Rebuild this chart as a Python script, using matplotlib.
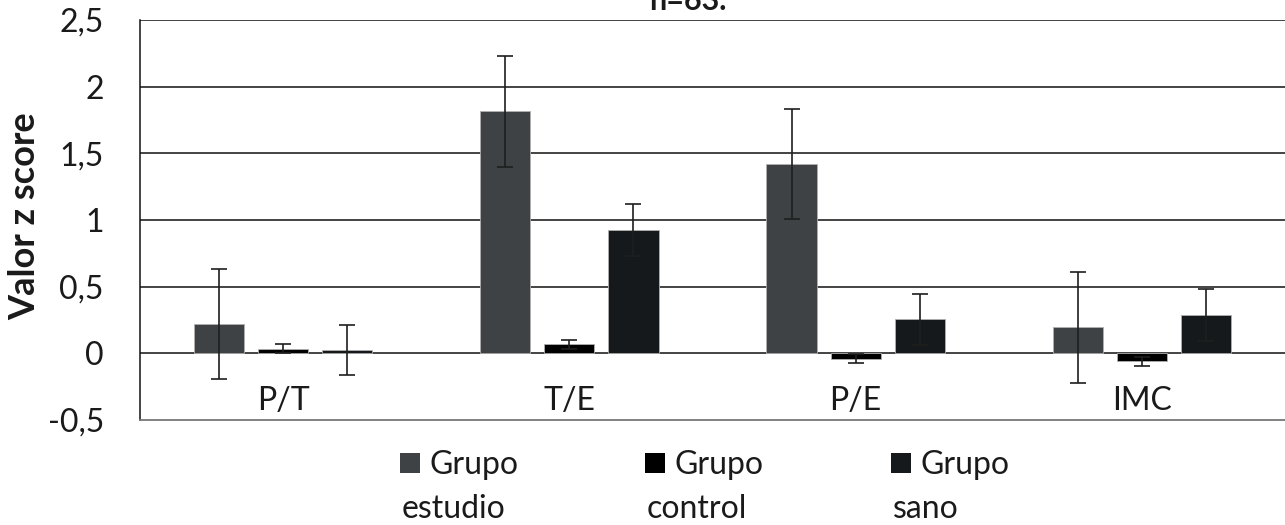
import numpy as np
import matplotlib
matplotlib.use("Agg")
import matplotlib.pyplot as plt
from matplotlib.patches import Rectangle

plt.rcParams['font.family'] = ['Lato', 'DejaVu Sans']

# data
categories = ["P/T", "T/E", "P/E", "IMC"]
series_names = ["Grupo\nestudio", "Grupo\ncontrol", "Grupo\nsano"]
estudio = [0.22, 1.815, 1.42, 0.195]
estudio_err = [0.415, 0.415, 0.415, 0.415]
control = [0.035, 0.068, -0.04, -0.06]
control_err = [0.035, 0.032, 0.035, 0.035]
sano = [0.025, 0.928, 0.255, 0.287]
sano_err = [0.19, 0.195, 0.19, 0.195]
colors = ["#3f4244", "#000000", "#16191c"]
yticks = [-0.5, 0, 0.5, 1, 1.5, 2, 2.5]
ytick_labels = ["-0,5", "0", "0,5", "1", "1,5", "2", "2,5"]

W, H = 1285, 525
fig = plt.figure(figsize=(W / 100, H / 100), dpi=100)
ax = fig.add_axes([140 / W, 1 - 420 / H, 1 - 140 / W, 400 / H])

x = np.arange(len(categories))
bw = 0.175
step = 0.224
for k, (vals, errs) in enumerate([(estudio, estudio_err), (control, control_err), (sano, sano_err)]):
    xs = x + (k - 1) * step
    ax.bar(xs, vals, width=bw, color=colors[k], edgecolor="#b0b0b0", linewidth=0.6, zorder=3)
    ax.errorbar(xs, vals, yerr=errs, fmt="none", ecolor="#1e1e1e", elinewidth=1.2,
                capsize=6, capthick=1.2, zorder=4)

ax.set_xlim(-0.5, 3.5)
ax.set_ylim(-0.5, 2.5)
ax.set_yticks(yticks)
ax.set_yticklabels(ytick_labels, fontsize=23, color="#1a1a1a")
ax.set_xticks([])
ax.tick_params(axis="y", length=0, pad=26)
for yv in yticks[1:]:
    ax.axhline(yv, color="#111111", linewidth=1.1, zorder=2)

ax.spines["right"].set_visible(False)
ax.spines["top"].set_visible(False)
ax.spines["left"].set_color("#111111")
ax.spines["left"].set_linewidth(1.1)
ax.spines["bottom"].set_color("#777777")
ax.spines["bottom"].set_linewidth(1.3)

for i, c in enumerate(categories):
    ax.text(i, -0.36, c, ha="center", va="center", fontsize=23, color="#1a1a1a")

fig.text(25 / W, 1 - 216 / H, "Valor z score", rotation=90, ha="center", va="center",
         fontsize=26, fontweight="bold", color="#1a1a1a")
fig.text(688 / W, 1 - 10 / H, "n=63.", ha="center", va="baseline",
         fontsize=22, fontweight="bold", color="#1a1a1a")

# legend
leg_x = [400, 645, 891]
for k, name in enumerate(series_names):
    first, second = name.split("\n")
    x0 = leg_x[k]
    fig.patches.append(Rectangle((x0 / W, 1 - 473 / H), 20 / W, 20 / H,
                                 transform=fig.transFigure, facecolor=colors[k],
                                 edgecolor="none"))
    fig.text((x0 + 30) / W, 1 - 474 / H, first, ha="left", va="baseline",
             fontsize=23, color="#1a1a1a")
    fig.text((x0 + 2) / W, 1 - 518 / H, second, ha="left", va="baseline",
             fontsize=23, color="#1a1a1a")

fig.savefig("out.png", dpi=100)
